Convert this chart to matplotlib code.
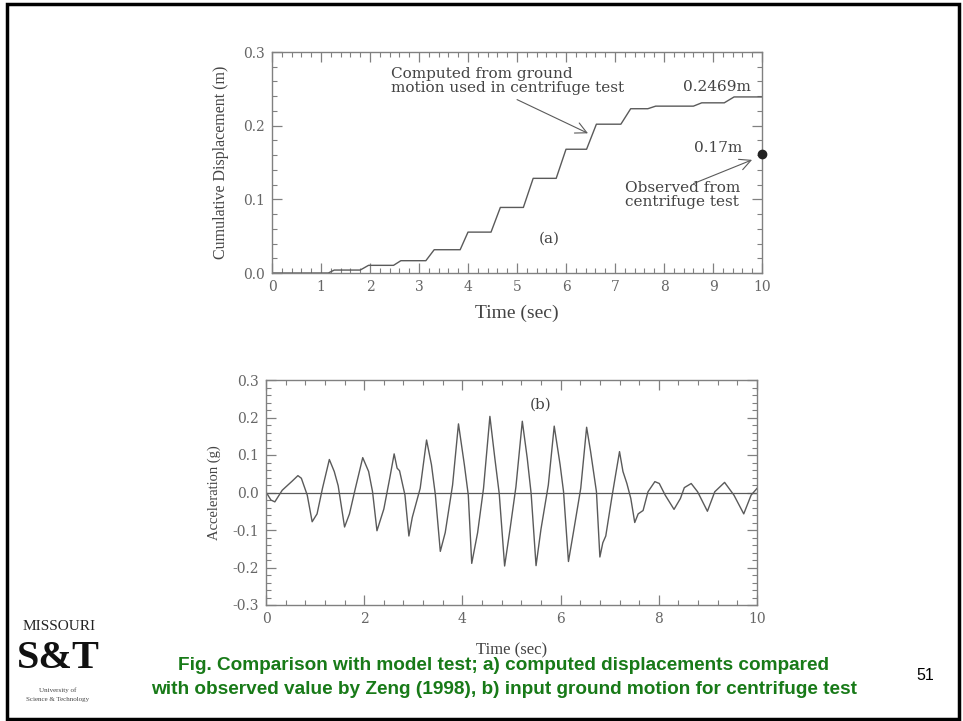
import numpy as np
import matplotlib
matplotlib.use("Agg")
import matplotlib.pyplot as plt
from matplotlib.ticker import MultipleLocator
from matplotlib.patches import Rectangle

# ---- data ----
# (a) cumulative displacement, corner points of the step curve
t_disp = [0.0, 0.6, 1.15, 1.27, 1.8, 1.97, 2.48, 2.63, 3.14, 3.31, 3.84, 4.0,
          4.47, 4.66, 5.13, 5.33, 5.8, 6.0, 6.42, 6.62, 7.12, 7.32, 7.67, 7.83,
          8.6, 8.77, 9.23, 9.43, 10.0]
d_disp = [0.0, 0.0, 0.0, 0.004, 0.004, 0.0104, 0.0104, 0.0167, 0.0167, 0.0316,
          0.0316, 0.0555, 0.0555, 0.089, 0.089, 0.1285, 0.1285, 0.168, 0.168,
          0.202, 0.202, 0.223, 0.223, 0.2265, 0.2265, 0.231, 0.231, 0.239, 0.239]
t_obs = 10.0
d_obs = 0.162

# (b) input ground acceleration
t_acc = [0.02, 0.1, 0.18, 0.33, 0.53, 0.65, 0.72, 0.84, 0.94, 1.04, 1.15, 1.29,
         1.39, 1.47, 1.6, 1.7, 1.82, 1.97, 2.09, 2.17, 2.26, 2.4, 2.52, 2.61,
         2.67, 2.72, 2.83, 2.91, 2.98, 3.14, 3.27, 3.37, 3.45, 3.55, 3.65, 3.8,
         3.92, 4.04, 4.12, 4.19, 4.31, 4.43, 4.56, 4.66, 4.75, 4.86, 4.97, 5.09,
         5.22, 5.32, 5.4, 5.5, 5.6, 5.75, 5.87, 5.99, 6.06, 6.16, 6.26, 6.41,
         6.53, 6.61, 6.73, 6.8, 6.86, 6.92, 7.04, 7.12, 7.2, 7.27, 7.35, 7.43,
         7.51, 7.58, 7.68, 7.78, 7.92, 8.01, 8.13, 8.31, 8.44, 8.52, 8.66, 8.79,
         8.99, 9.14, 9.34, 9.53, 9.73, 9.88, 10.0]
a_acc = [-0.003, -0.02, -0.025, 0.006, 0.03, 0.045, 0.038, -0.007, -0.078, -0.057,
         0.011, 0.088, 0.056, 0.018, -0.092, -0.057, 0.011, 0.093, 0.056, 0.002,
         -0.102, -0.044, 0.038, 0.103, 0.065, 0.058, -0.007, -0.116, -0.066, 0.011,
         0.14, 0.074, -0.007, -0.157, -0.107, 0.02, 0.183, 0.074, -0.007, -0.189,
         -0.107, 0.011, 0.203, 0.092, -0.003, -0.196, -0.098, 0.015, 0.19, 0.092,
         -0.003, -0.195, -0.098, 0.02, 0.177, 0.074, 0.002, -0.184, -0.107, 0.011,
         0.174, 0.11, 0.002, -0.172, -0.134, -0.116, -0.016, 0.047, 0.109, 0.056,
         0.024, -0.016, -0.08, -0.057, -0.048, 0.002, 0.029, 0.024, -0.007, -0.045,
         -0.016, 0.013, 0.024, 0.002, -0.05, 0.002, 0.027, -0.007, -0.057, -0.007,
         0.011]

W, H = 963, 721
fig = plt.figure(figsize=(W / 100, H / 100), dpi=100)
serif = ['Liberation Serif', 'DejaVu Serif']
wide = ['DejaVu Serif']
gray = '#5a5a5a'
frame = '#808080'
tcol = '#444444'


def ax_at(x0, y0, x1, y1):
    return fig.add_axes([x0 / W, 1 - y1 / H, (x1 - x0) / W, (y1 - y0) / H])


def style(ax, xmaj, xmin, ymaj, ymin):
    ax.xaxis.set_major_locator(MultipleLocator(xmaj))
    ax.xaxis.set_minor_locator(MultipleLocator(xmin))
    ax.yaxis.set_major_locator(MultipleLocator(ymaj))
    ax.yaxis.set_minor_locator(MultipleLocator(ymin))
    ax.yaxis.set_major_formatter(plt.FuncFormatter(lambda v, p: f"{v:.1f}"))
    ax.tick_params(which='both', direction='in', top=True, right=True,
                   color=frame, labelcolor='#666666', labelsize=10)
    ax.tick_params(which='major', length=7, width=0.9, pad=5)
    ax.tick_params(which='minor', length=3.5, width=0.8)
    for s in ax.spines.values():
        s.set_color(frame)
        s.set_linewidth(1.0)
    for lab in ax.get_xticklabels() + ax.get_yticklabels():
        lab.set_family(wide)


# ---------- (a) ----------
ax1 = ax_at(272, 52, 762, 273)
ax1.plot(t_disp, d_disp, color=gray, lw=1.0)
ax1.plot([t_obs], [d_obs], 'o', color='#222222', ms=6, clip_on=False, zorder=5)
ax1.set_xlim(0, 10)
ax1.set_ylim(0, 0.3)
style(ax1, 1, 0.2, 0.1, 0.02)
ax1.set_xlabel('Time (sec)', family=serif, fontsize=14, color=tcol, labelpad=8)
ax1.set_ylabel('Cumulative Displacement (m)', family=serif, fontsize=11.5,
               color=tcol, labelpad=10)

txt = dict(family=wide, fontsize=11, color=tcol)
ax1.text(2.43, 0.279, 'Computed from ground\nmotion used in centrifuge test',
         ha='left', va='top', linespacing=0.95, **txt)
ax1.annotate('', xy=(6.5, 0.188), xytext=(4.95, 0.237),
             arrowprops=dict(arrowstyle='->', color=gray, lw=0.8,
                             mutation_scale=20))
ax1.text(9.78, 0.243, '0.2469m', ha='right', va='bottom', **txt)
ax1.text(9.6, 0.16, '0.17m', ha='right', va='bottom', **txt)
ax1.annotate('', xy=(9.85, 0.155), xytext=(8.55, 0.12),
             arrowprops=dict(arrowstyle='->', color=gray, lw=0.8,
                             mutation_scale=20))
ax1.text(7.2, 0.087, 'Observed from\ncentrifuge test', ha='left', va='bottom',
         linespacing=0.95, **txt)
ax1.text(5.65, 0.046, '(a)', ha='center', va='center', **txt)

# ---------- (b) ----------
ax2 = ax_at(266, 380, 757, 605)
ax2.plot(t_acc, a_acc, color=gray, lw=1.0)
ax2.axhline(0, color=gray, lw=0.9)
ax2.set_xlim(0, 10)
ax2.set_ylim(-0.3, 0.3)
style(ax2, 2, 0.4, 0.1, 0.02)
ax2.set_xlabel('Time (sec)', family=serif, fontsize=12, color=tcol, labelpad=12)
ax2.set_ylabel('Acceleration (g)', family=serif, fontsize=10.5, color=tcol,
               labelpad=8)
ax2.text(5.6, 0.235, '(b)', ha='center', va='center', **txt)

# ---------- slide decorations ----------
fig.patches.append(Rectangle((7 / W, 1 - 719 / H), 952 / W, 715 / H,
                             transform=fig.transFigure, fill=False,
                             edgecolor='black', lw=2.5))

green = '#187a18'
cap = dict(family=['Liberation Sans', 'DejaVu Sans'], fontsize=13.7,
           fontweight='bold', color=green, ha='center', va='center')
fig.text(504 / W, 1 - 666 / H,
         'Fig. Comparison with model test; a) computed displacements compared', **cap)
fig.text(504 / W, 1 - 690 / H,
         'with observed value by Zeng (1998), b) input ground motion for centrifuge test',
         **cap)
fig.text(925 / W, 1 - 675 / H, '51', family=['Liberation Sans', 'DejaVu Sans'],
         fontsize=11.5, ha='center', va='center', color='black')

# logo
fig.text(59 / W, 1 - 627 / H, 'MISSOURI', family=serif, fontsize=11,
         ha='center', va='center', color='#222222')
fig.text(58 / W, 1 - 659 / H, 'S&T', family=serif, fontsize=29, fontweight='bold',
         ha='center', va='center', color='#111111')
fig.text(58 / W, 1 - 690 / H, 'University of', family=serif, fontsize=5,
         ha='center', va='center', color='#444444')
fig.text(58 / W, 1 - 700 / H, 'Science & Technology', family=serif, fontsize=5,
         ha='center', va='center', color='#444444')

fig.savefig('out.png', dpi=100)
